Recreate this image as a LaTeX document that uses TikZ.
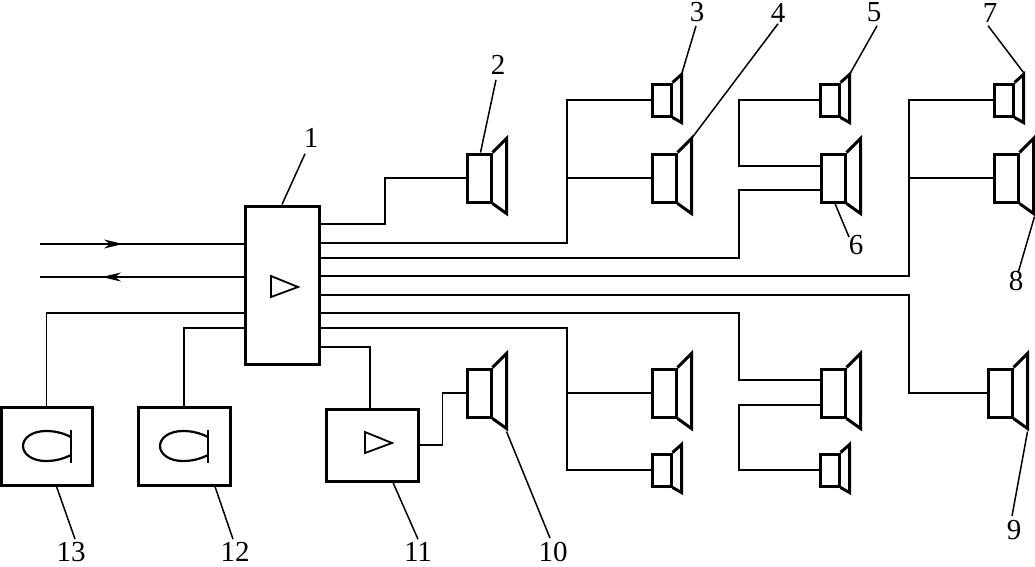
\documentclass[tikz,border=0pt]{standalone}
\usepackage{fontspec}
\setmainfont{Liberation Serif}
\usetikzlibrary{arrows.meta}
\begin{document}
\begin{tikzpicture}[
        x=1pt, y=-1pt,
        box/.style={rectangle, draw, line width=3pt, inner sep=0pt},
        bigspk/.style={box, minimum width=24pt, minimum height=48pt},
        smallspk/.style={box, minimum width=19pt, minimum height=32pt},
        wire/.style={line width=1.8pt},
        leader/.style={line width=1.5pt},
        tag/.style={font=\fontsize{29}{30}\selectfont, inner sep=1pt}
    ]
        \useasboundingbox (0,0) rectangle (1035,566);

        % Amplifiers and tape units
        \node[box, minimum width=74pt, minimum height=158pt] (main) at (282,285) {};
        \node[box, minimum width=92pt, minimum height=72pt] (amp) at (372,445) {};
        \node[box, minimum width=91pt, minimum height=78pt] (tape13) at (46.5,446) {};
        \node[box, minimum width=92pt, minimum height=78pt] (tape12) at (184,446) {};
        \draw[wire] (271,276) -- (298,287) -- (271,297) -- cycle;
        \draw[wire] (365,432) -- (392,443) -- (365,453) -- cycle;
        \foreach \x in {0,137} {
            \draw[line width=2.2pt] (\x+71,437) .. controls (\x+63,433) and (\x+55,431) .. (\x+46,431)
                .. controls (\x+32,431) and (\x+23,438) .. (\x+23,446)
                .. controls (\x+23,454) and (\x+32,461) .. (\x+46,461)
                .. controls (\x+55,461) and (\x+63,459) .. (\x+71,455);
            \draw[line width=2.2pt] (\x+71,430) -- (\x+71,463);
        }

        % Big speakers
        \foreach \n/\x/\y in {2/479/178, 4/664/178, 6/833/178, 8/1006/178,
                              10/479/393, 14/664/393, 15/833/393, 9/1000/393} {
            \node[bigspk] (s\n) at (\x,\y) {};
            \draw[line width=3pt, line join=miter] (s\n.north east) -- ++(14,-14) -- ++(0,75) -- (s\n.south east);
        }
        % Small speakers
        \foreach \n/\x/\y in {3/661.5/100, 5/829.5/100, 7/1003.5/100, 16/661.5/470, 17/829.5/470} {
            \node[smallspk] (s\n) at (\x,\y) {};
            \draw[line width=3pt, line join=miter] (s\n.north east) -- ++(9,-8) -- ++(0,48) -- (s\n.south east);
        }

        % Wires on the right of the main box
        \foreach \n/\y in {a/224, b/243, c/258, d/276, e/295, f/313, g/328, h/347} {
            \coordinate (r\n) at (319,\y);
        }
        \draw[wire] (ra) -- ++(66,0) |- (s2.west);
        \draw[wire] (rb) -- ++(248,0) |- (s3.west);
        \draw[wire] (567,178) -- (s4.west);
        \draw[wire] (rc) -- ++(420,0) |- ([yshift=-12pt]s6.west);
        \draw[wire] (s5.west) -| (739,166) -- ([yshift=12pt]s6.west);
        \draw[wire] (rd) -- ++(590,0) |- (s7.west);
        \draw[wire] (909,178) -- (s8.west);
        \draw[wire] (re) -- ++(590,0) |- (s9.west);
        \draw[wire] (rf) -- ++(420,0) |- ([yshift=13pt]s15.west);
        \draw[wire] ([yshift=-12pt]s15.west) -| (739,470) -- (s17.west);
        \draw[wire] (rg) -- ++(248,0) |- (s16.west);
        \draw[wire] (567,393) -- (s14.west);
        \draw[wire] (rh) -| (370,409);
        \draw[wire] (amp.east) -- ++(23,0) |- (s10.west);

        % Wires on the left of the main box
        \coordinate (ina) at (40,244);
        \coordinate (inb) at (40,277);
        \draw[wire] (ina) -- (main.west |- ina);
        \draw[wire] (inb) -- (main.west |- inb);
        \draw[wire, -{Stealth[length=19pt, width=9pt, inset=6pt]}] (ina) -- (123,244);
        \draw[wire, -{Stealth[length=19pt, width=9pt, inset=6pt]}] (main.west |- inb) -- (102,277);
        \draw[wire] (245,313) -| (tape13.north);
        \draw[wire] (245,328) -| (tape12.north);

        % Number labels
        \foreach \n/\x/\y in {1/311/138, 2/498/65, 3/697/12, 4/778/13, 5/874/12, 6/856/245,
                              7/990/13, 8/1016/281, 9/1014/530, 10/553/552, 11/418/552,
                              12/235/552, 13/71/552} {
            \node[tag] (l\n) at (\x,\y) {\n};
        }
        \draw[leader] (main.north) -- ([xshift=-6pt,yshift=-5pt]l1.south);
        \draw[leader] ([xshift=-2pt]s2.north east) ++(-10,0) -- ([xshift=-2pt,yshift=-4pt]l2.south);
        \draw[leader] ([xshift=9pt,yshift=8pt]s3.north east) -- ([xshift=-1pt,yshift=-3pt]l3.south);
        \draw[leader] ([xshift=14pt,yshift=14pt]s4.north east) -- (l4.south);
        \draw[leader] ([xshift=9pt,yshift=8pt]s5.north east) -- ([xshift=3pt,yshift=-3pt]l5.south);
        \draw[leader] ([xshift=2pt]s6.south) -- ([xshift=-7pt,yshift=-3pt]l6.north);
        \draw[leader] ([xshift=9pt,yshift=10pt]s7.north east) -- ([xshift=-2pt,yshift=-2pt]l7.south);
        \draw[leader] ([xshift=15pt,yshift=-13pt]s8.south east) -- ([xshift=2pt,yshift=-3pt]l8.north);
        \draw[leader] ([xshift=14pt,yshift=-13pt]s9.south east) -- ([xshift=-2pt,yshift=3pt]l9.north);
        \draw[leader] ([xshift=14pt,yshift=-13pt]s10.south east) -- ([xshift=-3pt,yshift=3pt]l10.north);
        \draw[leader] (amp.south) ++(21,0) -- ([yshift=2pt]l11.north);
        \draw[leader] (tape12.south) ++(31,0) -- ([xshift=-2pt,yshift=2pt]l12.north);
        \draw[leader] (tape13.south) ++(10,0) -- ([xshift=4pt,yshift=2pt]l13.north);
    \end{tikzpicture}
\end{document}
